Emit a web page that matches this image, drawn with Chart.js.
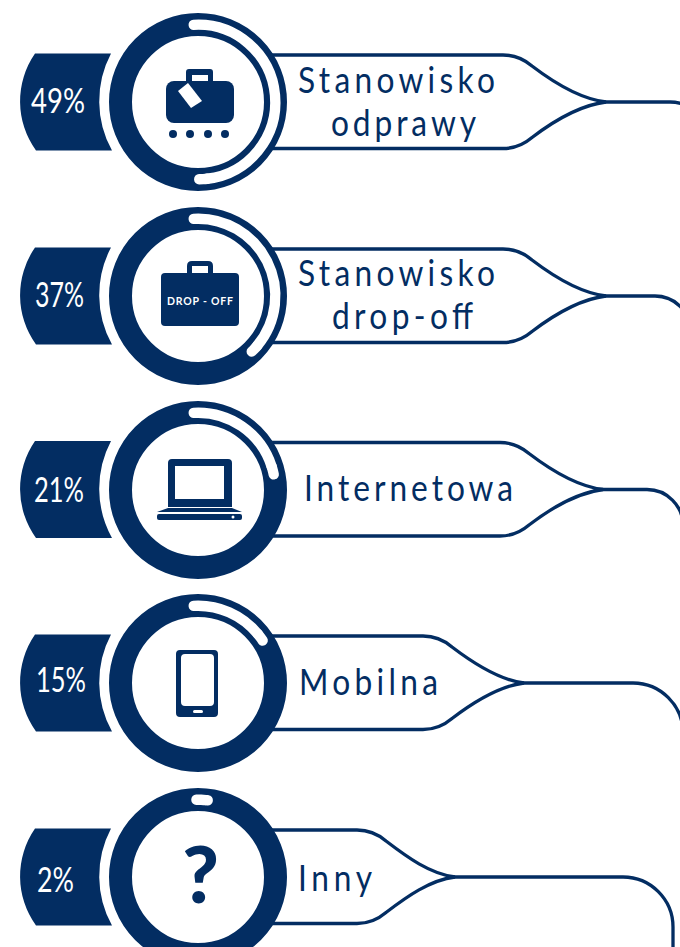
<!DOCTYPE html>
<html lang="pl">
<head>
<meta charset="utf-8">
<title>Odprawa</title>
<script src="https://cdn.jsdelivr.net/npm/chart.js@4"></script>
<style>
  html, body { margin: 0; padding: 0; background: #fff; overflow: hidden; }
  #stage { position: relative; width: 680px; height: 947px; overflow: hidden; }
  #stage svg, #stage canvas { position: absolute; }
  .label { font-family: Lato, sans-serif; font-weight: 400; font-size: 36px; fill: #032d62; }
  .pct { font-family: Lato, sans-serif; font-weight: 400; font-size: 34px; fill: #fff; }
</style>
</head>
<body>
<div id="stage"><svg id="art" width="680" height="947" viewBox="0 0 680 947"></svg></div>
<script>
const categories = ['Stanowisko odprawy', 'Stanowisko drop-off', 'Internetowa', 'Mobilna', 'Inny'];
const shares = [49, 37, 21, 15, 2];

const labelLines = [['Stanowisko', 'odprawy'], ['Stanowisko', 'drop-off'], ['Internetowa'], ['Mobilna'], ['Inny']];
const labelX = [[298, 331], [298, 332], [304], [299], [298]];
const labelWidth = [[197, 145], [197, 141], [209], [139], [74]];
const labelBaseline = [[92.5, 136], [286, 329], [501], [695], [891]];
const labelSqueeze = 0.88;

// layout of the rows
const rowY = [102, 296, 489.5, 683, 877];
const joinX = [606, 606, 603, 524, 455];
const flatFromJoin = [103, 103, 103, 101, 98];
const bendX = [670, 655, 647, 633, 623];
const bendR = [36, 36, 36, 50, 50];
const pctX = [31, 35, 34, 36, 37];
const pctWidth = [54, 49, 50, 50, 37];
const pctBaseline = [113, 307, 501.5, 692, 892];
const arcStart = [-3.3, -3.3, -3.3, -3.3, -1.3];
const capTail = [1.7, 1.7, 1.7, 1.7, 0.4];
const DARK = '#032d62';

const art = document.getElementById('art');
let svg = '';

function rowShapes(i) {
    const y = rowY[i], top = y - 47, bot = y + 46.5, mid = y, j = joinX[i], f = j - flatFromJoin[i], b = bendX[i], r = bendR[i];
    // badge behind the percentage
    svg += `<path fill="${DARK}" d="M35 ${y - 48.5}H111A102 102 0 0 0 112 ${y + 48.5}H36A84 84 0 0 1 35 ${y - 48.5}Z"/>`;
    // outline round the label, running off to the next row
    svg += `<path fill="none" stroke="${DARK}" stroke-width="3.3" d="M270 ${top}H${f}C${f + 14} ${top} ${f + 22} ${top + 5} ${f + 29} ${top + 11}C${f + 50} ${top + 27} ${j - 25} ${mid - 3} ${j} ${mid}C${j - 25} ${mid + 3} ${f + 50} ${bot - 27} ${f + 29} ${bot - 11}C${f + 22} ${bot - 5} ${f + 14} ${bot} ${f} ${bot}H270"/>`;
    svg += `<path fill="none" stroke="${DARK}" stroke-width="3.3" d="M${j - 8} ${mid}H${b}C${b + r * .55} ${mid} ${b + r} ${mid + r * .45} ${b + r} ${mid + r}V${mid + 90}"/>`;
    svg += `<text class="pct" x="${pctX[i]}" y="${pctBaseline[i]}" textLength="${pctWidth[i]}" lengthAdjust="spacingAndGlyphs">${shares[i]}%</text>`;
    labelLines[i].forEach((line, n) => {
        svg += `<text class="label" transform="translate(${labelX[i][n]} ${labelBaseline[i][n]}) scale(${labelSqueeze} 1)" textLength="${labelWidth[i][n] / labelSqueeze}">${line}</text>`;
    });
}

function icons() {
    svg += `<g fill="${DARK}">`;
    // baggage on a belt
    svg += `<path fill-rule="evenodd" d="M189 69H210Q213 69 213 72V81H208V75H192V81H186V72Q186 69 189 69Z"/>`;
    svg += `<rect x="166" y="81" width="68" height="42" rx="8"/>`;
    svg += `<path fill="#fff" d="M178 91L188 83L202 101L191 108Z"/>`;
    [173, 190, 208, 225].forEach(x => { svg += `<circle cx="${x}" cy="134" r="4"/>`; });
    // drop-off case
    svg += `<path d="M192 261H208Q213 261 213 266V273H208V266H192V273H187V266Q187 261 192 261Z"/>`;
    svg += `<rect x="161" y="273" width="78" height="53" rx="4"/>`;
    svg += `<text x="167" y="304.5" fill="#fff" font-family="Lato" font-weight="700" font-size="10.5" textLength="66">DROP - OFF</text>`;
    // laptop
    svg += `<path fill-rule="evenodd" d="M172 459H228Q232 459 232 463V507H168V463Q168 459 172 459ZM175 466V499H224V466Z"/>`;
    svg += `<path d="M168 508H232L242 512H157Z"/><rect x="157" y="514" width="85" height="6" rx="2"/>`;
    svg += `<circle cx="233" cy="517" r="1.5" fill="#fff"/>`;
    // phone
    svg += `<path fill-rule="evenodd" d="M180 650H214Q218 650 218 654V713Q218 717 214 717H180Q176 717 176 713V654Q176 650 180 650ZM185 654Q181 654 181 658V702Q181 706 185 706H210Q214 706 214 702V658Q214 654 210 654Z"/>`;
    svg += `<rect x="193" y="710" width="10" height="3" rx="1.5" fill="#fff"/>`;
    svg += `<text x="200.5" y="903" text-anchor="middle" font-family="Lato" font-weight="900" font-size="79">?</text>`;
    svg += `</g>`;
}

shares.forEach((_, i) => rowShapes(i));
icons();
art.innerHTML = svg;

// the dark ring behind each arc
const ringTrack = {
    id: 'ringTrack',
    beforeDatasetsDraw(chart) {
        const arc = chart.getDatasetMeta(0).data[0];
        const ctx = chart.ctx;
        ctx.save();
        ctx.beginPath();
        ctx.arc(arc.x, arc.y, 77.5, 0, Math.PI * 2);
        ctx.lineWidth = 23;
        ctx.strokeStyle = DARK;
        ctx.stroke();
        ctx.restore();
    }
};

shares.forEach((share, i) => {
    const canvas = document.createElement('canvas');
    canvas.width = 190;
    canvas.height = 190;
    canvas.style.left = (198 - 95) + 'px';
    canvas.style.top = (rowY[i] - 95) + 'px';
    document.getElementById('stage').appendChild(canvas);

    new Chart(canvas.getContext('2d'), {
        type: 'doughnut',
        data: {
            labels: [categories[i], '', ''],
            datasets: [{
                data: [share, capTail[i], 100 - share - capTail[i]],
                backgroundColor: ['#fff', '#fff', 'rgba(0,0,0,0)'],
                borderColor: ['#fff', '#fff', 'rgba(0,0,0,0)'],
                borderWidth: [10, 10, 0],
                borderJoinStyle: 'round'
            }]
        },
        options: {
            responsive: false,
            animation: false,
            radius: 77.5,
            cutout: '99.5%',
            rotation: arcStart[i],
            layout: { padding: 0 },
            plugins: { legend: { display: false }, tooltip: { enabled: false } }
        },
        plugins: [ringTrack]
    });
});
</script>
</body>
</html>
